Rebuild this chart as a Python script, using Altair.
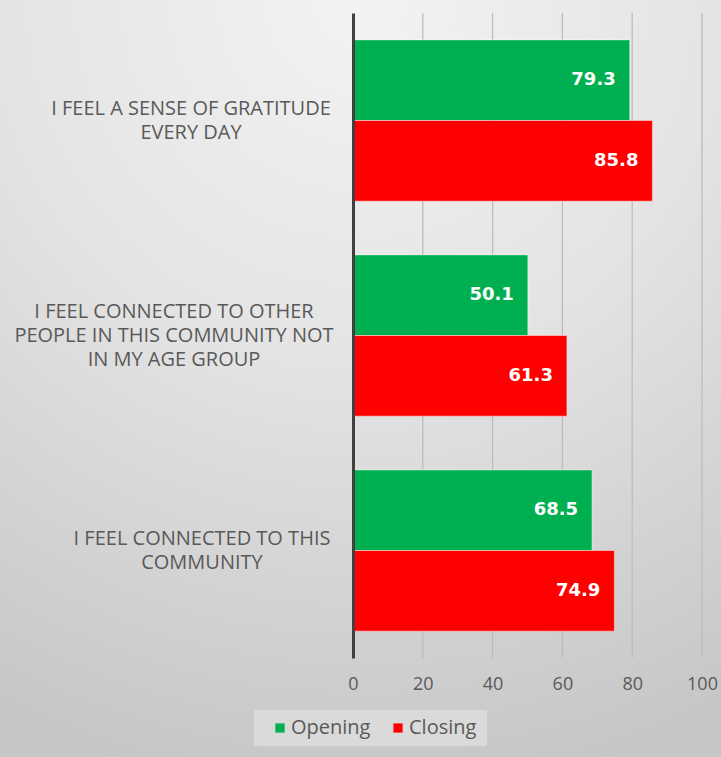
import altair as alt
import pandas as pd

categories = [
    "I FEEL A SENSE OF GRATITUDE|EVERY DAY",
    "I FEEL CONNECTED TO OTHER|PEOPLE IN THIS COMMUNITY NOT|IN MY AGE GROUP",
    "I FEEL CONNECTED TO THIS|COMMUNITY",
]
series = ["Opening", "Closing"]
opening = [79.3, 50.1, 68.5]
closing = [85.8, 61.3, 74.9]
x_ticks = [0, 20, 40, 60, 80, 100]
colors = ["#00B050", "#FF0000"]
label_centers = [191, 174, 202]

rows = []
for c, o, cl in zip(categories, opening, closing):
    rows.append({"cat": c, "series": "Opening", "value": o})
    rows.append({"cat": c, "series": "Closing", "value": cl})
df = pd.DataFrame(rows)
cat_df = pd.DataFrame({"cat": categories})
tick_df = pd.DataFrame({"value": x_ticks[1:]})

W, H = 349, 645
PL, PT, PR, PB = 353, 13, 19, 99
LABEL_FONT = "Open Sans"
LINE_H = 24

x_scale = alt.Scale(domain=[0, 100], nice=False)

y_enc = alt.Y(
    "cat:N",
    sort=categories,
    title=None,
    scale=alt.Scale(domain=categories, paddingInner=0.25, paddingOuter=0.125),
    axis=alt.Axis(
        labels=False,
        ticks=False,
        domainColor="#404040",
        domainWidth=3,
        grid=False,
        zindex=1,
    ),
)

x_enc = alt.X(
    "value:Q",
    title=None,
    scale=x_scale,
    axis=alt.Axis(
        values=x_ticks,
        grid=False,
        domain=False,
        ticks=False,
        labelFont=LABEL_FONT,
        labelFontSize=18,
        labelColor="#595959",
        labelPadding=17,
        labelFlush=False,
        zindex=1,
    ),
)

bg = alt.Chart(cat_df).mark_rect(
    color=alt.Gradient(
        gradient="radial",
        stops=[
            alt.GradientStop(color="#f3f3f3", offset=0),
            alt.GradientStop(color="#e4e4e4", offset=0.45),
            alt.GradientStop(color="#c6c6c6", offset=1),
        ],
        x1=0.5, y1=0.0, r1=0.0,
        x2=0.5, y2=0.0, r2=1.05,
    )
).encode(
    x=alt.value(-PL), x2=alt.value(W + PR),
    y=alt.value(-PT), y2=alt.value(H + PB),
)

legend_box = alt.Chart(cat_df).mark_rect(color="#dadada").encode(
    x=alt.value(254 - PL), x2=alt.value(487 - PL),
    y=alt.value(710 - PT), y2=alt.value(746 - PT),
)

grid = alt.Chart(tick_df).mark_rule(color="#bdbdbd", strokeWidth=1.3).encode(
    x=alt.X("value:Q", scale=x_scale),
)

bars = alt.Chart(df).mark_bar(stroke="#ffffff", strokeWidth=1, strokeOpacity=0.45).encode(
    y=y_enc,
    x=x_enc,
    yOffset=alt.YOffset("series:N", sort=series),
    color=alt.Color(
        "series:N",
        sort=series,
        scale=alt.Scale(domain=series, range=colors),
        legend=alt.Legend(
            title=None,
            orient="none",
            direction="horizontal",
            legendX=270 - PL,
            legendY=718 - PT,
            padding=0,
            symbolType="square",
            symbolSize=85,
            symbolStrokeWidth=0,
            labelFont=LABEL_FONT,
            labelFontSize=20,
            labelColor="#595959",
            labelOffset=1,
            columnPadding=17,
        ),
    ),
)

labels = alt.Chart(df).mark_text(
    align="right", baseline="middle", dx=-14,
    font="DejaVu Sans", fontSize=18, fontWeight="bold", color="white",
).encode(
    y=alt.Y("cat:N", sort=categories),
    x=alt.X("value:Q"),
    yOffset=alt.YOffset("series:N", sort=series),
    text=alt.Text("value:Q", format=".1f"),
)

cat_layers = []
for c, cx in zip(categories, label_centers):
    n_lines = len(c.split("|"))
    cat_layers.append(
        alt.Chart(cat_df)
        .transform_filter(alt.datum.cat == c)
        .transform_calculate(lines="split(datum.cat, '|')")
        .mark_text(
            align="center", baseline="middle", lineHeight=LINE_H,
            dy=-(n_lines - 1) * LINE_H / 2,
            font=LABEL_FONT, fontSize=20, color="#595959",
        )
        .encode(
            y=alt.Y("cat:N", sort=categories),
            x=alt.value(cx - PL),
            text=alt.Text("lines:N"),
        )
    )

chart = alt.layer(bg, legend_box, grid, bars, labels, *cat_layers).properties(
    width=W,
    height=H,
    autosize=alt.AutoSizeParams(type="none"),
    padding={"left": PL, "top": PT, "right": PR, "bottom": PB},
    background="#d0d0d0",
).configure_view(stroke=None)

chart.save("out.html", embed_options={"renderer": "svg", "actions": False})
